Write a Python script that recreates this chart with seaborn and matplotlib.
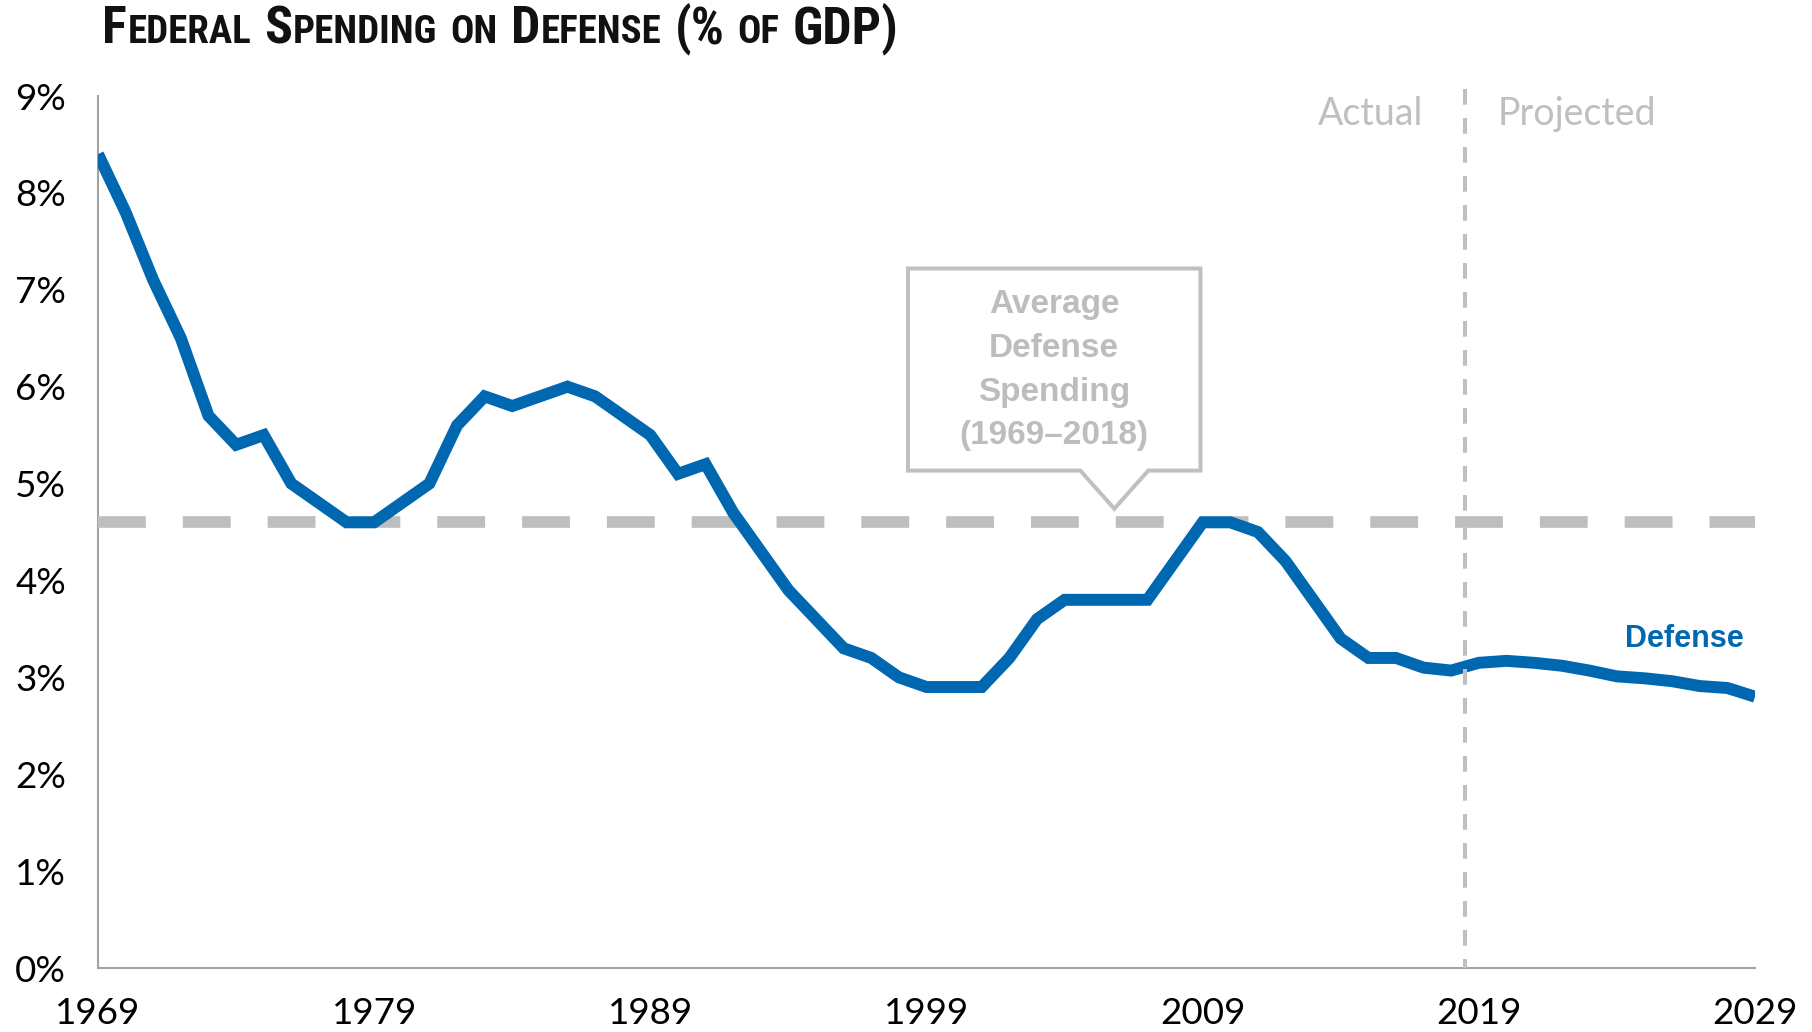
import matplotlib
matplotlib.use("Agg")
import matplotlib.pyplot as plt
from matplotlib import font_manager
from matplotlib.patches import Polygon
import pandas as pd
import seaborn as sns

# ---------------------------------------------------------------- data
years = list(range(1969, 2030))
defense_pct = [
    8.4, 7.8, 7.1, 6.5, 5.7, 5.4, 5.5, 5.0, 4.8, 4.6,     # 1969-1978
    4.6, 4.8, 5.0, 5.6, 5.9, 5.8, 5.9, 6.0, 5.9, 5.7,     # 1979-1988
    5.5, 5.1, 5.2, 4.7, 4.3, 3.9, 3.6, 3.3, 3.2, 3.0,     # 1989-1998
    2.9, 2.9, 2.9, 3.2, 3.6, 3.8, 3.8, 3.8, 3.8, 4.2,     # 1999-2008
    4.6, 4.6, 4.5, 4.2, 3.8, 3.4, 3.2, 3.2, 3.1, 3.07,    # 2009-2018
    3.15, 3.17, 3.15, 3.12, 3.07, 3.01, 2.99, 2.96, 2.91, 2.89,  # 2019-2028
    2.80,                                                 # 2029
]
average_pct = 4.6
projection_start = 2018.5

y_ticks = list(range(0, 10))
y_tick_labels = [f"{v}%" for v in y_ticks]
x_ticks = [1969, 1979, 1989, 1999, 2009, 2019, 2029]
x_tick_labels = [str(v) for v in x_ticks]

title_words = [("F", "EDERAL"), ("S", "PENDING"), ("", "ON"), ("D", "EFENSE"),
               ("(%", ""), ("", "OF"), ("GDP)", "")]
callout_lines = ["Average", "Defense", "Spending", "(1969\u20132018)"]
series_label = "Defense"
actual_label = "Actual"
projected_label = "Projected"

# ---------------------------------------------------------------- style
BLUE = "#0067B1"
AVG_GRAY = "#BEBEBE"
TEXT_GRAY = "#BDBDBD"
AXIS_GRAY = "#A3A3A3"


def first_installed(names, default="DejaVu Sans"):
    avail = {f.name for f in font_manager.fontManager.ttflist}
    for n in names:
        if n in avail:
            return n
    return default


BODY_FONT = first_installed(["Lato", "Open Sans", "Noto Sans"])
TITLE_FONT = first_installed(["Liberation Sans Narrow", "Roboto Condensed", "Liberation Sans"])
LABEL_FONT = first_installed(["Liberation Sans", "Roboto", "Noto Sans"])

sns.set_theme(style="white")
plt.rcParams["font.family"] = [BODY_FONT, "DejaVu Sans"]

W_PX, H_PX = 1812, 1032
fig = plt.figure(figsize=(W_PX / 100, H_PX / 100), dpi=100)
fig.patch.set_facecolor("white")

# plot area: x 98..1755 px, y 96..968 px (from top)
ax = fig.add_axes([98 / W_PX, 1 - 968 / H_PX, (1755 - 98) / W_PX, (968 - 96) / H_PX])
ax.set_facecolor("white")

df = pd.DataFrame({"year": years, "pct": defense_pct})

# average reference line (dashed, thick, light gray)
ax.plot([x_ticks[0], x_ticks[-1]], [average_pct, average_pct], color=AVG_GRAY,
        linewidth=8.4, dashes=(4.1, 3.17), dash_capstyle="butt", zorder=1)

# defense spending series
sns.lineplot(data=df, x="year", y="pct", color=BLUE, linewidth=8.6, ax=ax,
             zorder=2, legend=False)
line = ax.lines[-1]
line.set_solid_capstyle("butt")
line.set_solid_joinstyle("miter")

# actual / projected divider
ax.plot([projection_start, projection_start], [9.07, 0], color="#BFBFBF",
        linewidth=2.9, dashes=(3.9, 3.3), dash_capstyle="butt",
        clip_on=False, zorder=3)

ax.set_xlim(x_ticks[0], x_ticks[-1])
ax.set_ylim(0, 9)
ax.set_xticks(x_ticks)
ax.set_xticklabels(x_tick_labels)
ax.set_yticks(y_ticks)
ax.set_yticklabels(y_tick_labels)
ax.set_xlabel("")
ax.set_ylabel("")

for side in ("top", "right"):
    ax.spines[side].set_visible(False)
for side in ("left", "bottom"):
    ax.spines[side].set_color(AXIS_GRAY)
    ax.spines[side].set_linewidth(1.5)
    ax.spines[side].set_zorder(0.5)

ax.tick_params(axis="both", which="major", length=8, width=1.5, color=AXIS_GRAY,
               labelsize=26.5, labelcolor="black", direction="out")
ax.tick_params(axis="x", pad=13)
ax.tick_params(axis="y", pad=15)
ax.grid(False)

# Actual / Projected labels
ax.text(2016.97, 8.70, actual_label, ha="right", va="baseline", fontsize=27,
        color="#BFBFBF", family=[BODY_FONT, "DejaVu Sans"])
ax.text(2019.69, 8.70, projected_label, ha="left", va="baseline", fontsize=27,
        color="#BFBFBF", family=[BODY_FONT, "DejaVu Sans"])

# series label
ax.text(2026.43, 3.31, series_label, ha="center", va="baseline", fontsize=22,
        fontweight="bold", color=BLUE, family=[LABEL_FONT, "DejaVu Sans"])

# callout box with pointer toward the average line
box_l, box_r, box_b, box_t = 1998.33, 2008.92, 5.134, 7.22
ptr_l, ptr_r, ptr_x, ptr_y = 2004.57, 2007.03, 2005.80, 4.74
callout = Polygon([(box_l, box_t), (box_r, box_t), (box_r, box_b), (ptr_r, box_b),
                   (ptr_x, ptr_y), (ptr_l, box_b), (box_l, box_b)],
                  closed=True, facecolor="white", edgecolor="#C0C0C0",
                  linewidth=2.9, joinstyle="miter", zorder=4, clip_on=False)
ax.add_patch(callout)
for txt, base in zip(callout_lines, [6.756, 6.307, 5.857, 5.413]):
    ax.text((box_l + box_r) / 2, base, txt, ha="center", va="baseline",
            fontsize=24, fontweight="bold", color=TEXT_GRAY,
            family=[LABEL_FONT, "DejaVu Sans"], zorder=5)


# title in small caps: full-size initials, reduced-size remainder
def draw_small_caps(x_px, base_px, words, big_size, small_ratio):
    renderer = fig.canvas.get_renderer()
    small_size = big_size * small_ratio
    space = 0.24 * big_size * fig.dpi / 72
    x = x_px
    made = []
    for big, small in words:
        for s, size in ((big, big_size), (small, small_size)):
            if not s:
                continue
            t = fig.text(x / W_PX, 1 - base_px / H_PX, s, fontsize=size,
                         ha="left", va="baseline", fontweight="bold",
                         color="#111111", family=[TITLE_FONT, "DejaVu Sans"])
            x += t.get_window_extent(renderer).width + 0.02 * size
            made.append(t)
        x += space
    return made, x - space - x_px


trial, width = draw_small_caps(102, 43, title_words, 34, 0.75)
for t in trial:
    t.remove()
scale = 796 / width
draw_small_caps(102, 43, title_words, 34 * scale, 0.75)

fig.savefig("out.png", dpi=100, facecolor="white")
